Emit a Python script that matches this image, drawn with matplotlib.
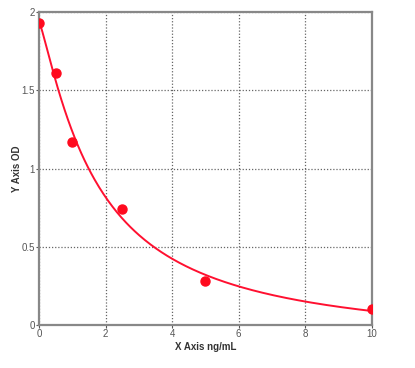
import numpy as np
import matplotlib
matplotlib.use("Agg")
import matplotlib.pyplot as plt

# standard points
conc = [0, 0.5, 1, 2.5, 5, 10]
od = [1.93, 1.61, 1.17, 0.74, 0.28, 0.10]

x_ticks = [0, 2, 4, 6, 8, 10]
y_ticks = [0, 0.5, 1, 1.5, 2]
y_tick_labels = ["0", "0.5", "1", "1.5", "2"]


def fit_4pl(x, y):
    # grid search over slope/midpoint, linear least squares for top/bottom
    x = np.asarray(x, float)
    y = np.asarray(y, float)
    best = None
    for b in np.linspace(0.5, 3.0, 101):
        for c in np.linspace(0.3, 12.0, 235):
            g = 1.0 / (1.0 + (x / c) ** b)
            A = np.column_stack([g, 1 - g])
            coef, *_ = np.linalg.lstsq(A, y, rcond=None)
            err = np.sum((A @ coef - y) ** 2)
            if best is None or err < best[0]:
                best = (err, coef[0], coef[1], b, c)
    _, a, d, b, c = best
    return lambda t: d + (a - d) / (1.0 + (t / c) ** b)


curve = fit_4pl(conc, od)
xs = np.linspace(0, 10, 300)

plt.rcParams['font.family'] = ['Liberation Sans', 'DejaVu Sans']
fig = plt.figure(figsize=(4.15, 3.68), dpi=100)
ax = fig.add_axes([0.094, 0.117, 0.802, 0.850])

ax.plot(xs, curve(xs), color="#ff1030", lw=1.4, zorder=3)
ax.plot(conc, od, "o", color="#ff0a1e", ms=6.5, zorder=4)

ax.set_xlim(0, 10)
ax.set_ylim(0, 2)
ax.set_xticks(x_ticks)
ax.set_yticks(y_ticks)
ax.set_yticklabels(y_tick_labels)
ax.tick_params(labelsize=7, colors="#555555", length=2, width=0.8, pad=1)
ax.grid(True, color="#666666", ls=(0, (1, 1.5)), lw=0.9)

for s in ax.spines.values():
    s.set_color("#888888")
    s.set_linewidth(1.6)

ax.set_xlabel("X Axis ng/mL", fontsize=7, fontweight="bold", color="#333333", labelpad=2)
ax.set_ylabel("Y Axis OD", fontsize=7, fontweight="bold", color="#333333")
ax.yaxis.set_label_coords(-0.052, 0.5)

fig.savefig("out.png", dpi=100, facecolor="white")
